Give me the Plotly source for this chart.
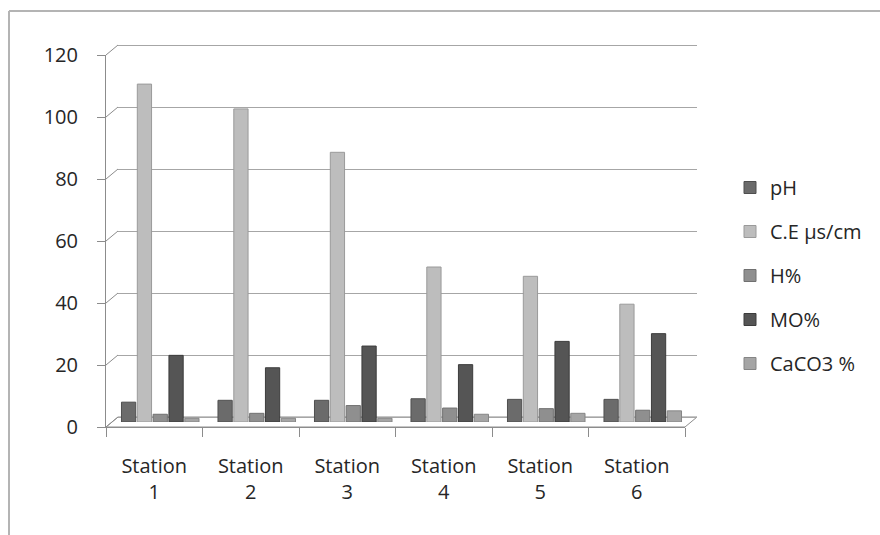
import plotly.graph_objects as go

W, H = 880, 535

stations = ["Station 1", "Station 2", "Station 3", "Station 4", "Station 5", "Station 6"]
station_labels = ["Station<br>1", "Station<br>2", "Station<br>3", "Station<br>4", "Station<br>5", "Station<br>6"]

ph = [6.4, 7.0, 7.0, 7.5, 7.3, 7.3]
ce = [109, 101, 87, 50, 47, 38]
h_pct = [2.5, 2.8, 5.3, 4.5, 4.3, 3.8]
mo_pct = [21.5, 17.5, 24.5, 18.5, 26, 28.5]
caco3 = [1.2, 1.2, 1.2, 2.5, 2.8, 3.6]

series_names = ["pH", "C.E µs/cm", "H%", "MO%", "CaCO3 %"]
series_values = [ph, ce, h_pct, mo_pct, caco3]
series_colors = ["#6b6b6b", "#bdbdbd", "#8f8f8f", "#555555", "#a5a5a5"]
series_edges = ["#4f4f4f", "#9a9a9a", "#707070", "#3c3c3c", "#858585"]

y_ticks = [0, 20, 40, 60, 80, 100, 120]


def px(x):
    return x / W


def py(y):
    return 1 - y / H


FONT = "Open Sans, Liberation Sans, sans-serif"
TXT = "#262626"
LINE = "#8c8c8c"

fig = go.Figure()

# back wall (gridlines)
fig.add_trace(go.Scatter(x=stations, y=[None] * 6, xaxis="x", yaxis="y",
                         showlegend=False, hoverinfo="skip"))
# front axes (labels)
fig.add_trace(go.Scatter(x=stations, y=[None] * 6, xaxis="x2", yaxis="y2",
                         showlegend=False, hoverinfo="skip"))

for name, vals, col, edge in zip(series_names, series_values, series_colors, series_edges):
    fig.add_trace(go.Bar(
        x=stations, y=vals, name=name, xaxis="x3", yaxis="y3",
        marker=dict(color=col, line=dict(color=edge, width=1)),
        legendgroup=name,
    ))

# geometry in pixels
back_x0, back_x1, back_y0, back_y1 = 118, 697, 417, 45
front_x0, front_x1, front_y0, front_y1 = 106, 685, 427, 55
mid_x0, mid_x1, mid_y0, mid_y1 = 112, 691, 422, 50
ppu = (back_y0 - back_y1) / 120.0  # pixels per unit

shapes = []
# left wall diagonal connectors
for v in y_ticks:
    yf = front_y0 + (front_y1 - front_y0) * v / 120
    yb = back_y0 + (back_y1 - back_y0) * v / 120
    shapes.append(dict(type="line", xref="paper", yref="paper",
                       x0=px(front_x0), y0=py(yf), x1=px(back_x0), y1=py(yb),
                       line=dict(color=LINE, width=1)))
# floor
shapes.append(dict(type="path", xref="paper", yref="paper",
                   path=f"M {px(front_x0)},{py(front_y0)} L {px(front_x1)},{py(front_y0)} "
                        f"L {px(back_x1)},{py(back_y0)} L {px(back_x0)},{py(back_y0)} Z",
                   line=dict(color=LINE, width=1), layer="below"))
# outer chart border (left and top)
shapes.append(dict(type="line", xref="paper", yref="paper",
                   x0=px(9), y0=py(11), x1=px(9), y1=0,
                   line=dict(color="#b4b4b4", width=2)))
shapes.append(dict(type="line", xref="paper", yref="paper",
                   x0=px(9), y0=py(11), x1=1, y1=py(11),
                   line=dict(color="#b4b4b4", width=2)))

fig.update_layout(
    template="none",
    width=W, height=H,
    margin=dict(l=0, r=0, t=0, b=0, pad=0, autoexpand=False),
    paper_bgcolor="white",
    plot_bgcolor="rgba(0,0,0,0)",
    font=dict(family=FONT, size=20, color=TXT),
    barmode="group",
    bargap=0.18,
    bargroupgap=0.1,
    showlegend=True,
    legend=dict(x=px(730), y=py(168), xanchor="left", yanchor="top",
                font=dict(family=FONT, size=20, color=TXT),
                tracegroupgap=15, bgcolor="rgba(0,0,0,0)", borderwidth=0),
    xaxis=dict(domain=[px(back_x0), px(back_x1)], anchor="y", type="category",
               categoryorder="array", categoryarray=stations, range=[-0.5, 5.5],
               showticklabels=False, showgrid=False, zeroline=False, showline=False, ticks="",
               automargin=False),
    yaxis=dict(domain=[py(back_y0 + ppu), py(back_y1 - ppu)], anchor="x", range=[-1, 121],
               tickvals=y_ticks, showgrid=True, gridcolor="#a6a6a6", gridwidth=1,
               showticklabels=False, zeroline=False, showline=False, ticks="",
               automargin=False),
    xaxis2=dict(domain=[px(front_x0), px(front_x1)], anchor="y2", type="category",
                categoryorder="array", categoryarray=stations, range=[-0.5, 5.5],
                tickvals=stations, ticktext=station_labels,
                ticks="outside", tickson="boundaries", ticklen=9, tickcolor=LINE,
                showline=True, linecolor=LINE, linewidth=1, showgrid=False, zeroline=False,
                tickfont=dict(family=FONT, size=20, color=TXT), ticklabelstandoff=21,
                automargin=False),
    yaxis2=dict(domain=[py(front_y0), py(front_y1)], anchor="x2", range=[0, 120],
                tickvals=y_ticks, ticks="outside", ticklen=8, tickcolor=LINE,
                showline=True, linecolor=LINE, linewidth=1, showgrid=False, zeroline=False,
                tickfont=dict(family=FONT, size=20, color=TXT), ticklabelstandoff=15,
                automargin=False),
    xaxis3=dict(domain=[px(mid_x0), px(mid_x1)], anchor="y3", type="category",
                categoryorder="array", categoryarray=stations, range=[-0.5, 5.5],
                visible=False, automargin=False),
    yaxis3=dict(domain=[py(mid_y0), py(mid_y1)], anchor="x3", range=[0, 120], visible=False,
                automargin=False),
    shapes=shapes,
)

fig.write_html("out.html")
